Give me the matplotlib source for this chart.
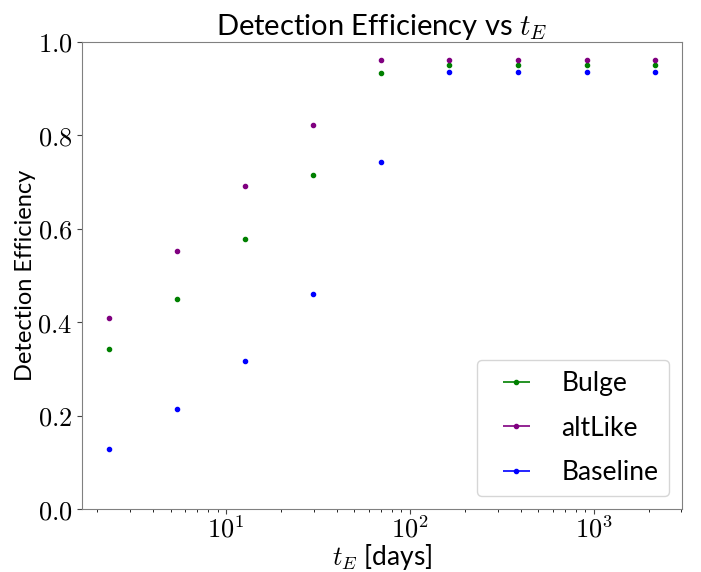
import matplotlib
matplotlib.use("Agg")
import matplotlib.pyplot as plt
from matplotlib.ticker import FuncFormatter
import numpy as np

plt.rcParams['font.family'] = ['Lato', 'DejaVu Sans']
plt.rcParams['mathtext.fontset'] = 'cm'

# bin centres of the Einstein crossing time [days]
t_e = [2.32, 5.4, 12.7, 29.9, 69.5, 163, 389, 916, 2150]

# detection efficiency per population
bulge = [0.343, 0.450, 0.578, 0.715, 0.934, 0.951, 0.951, 0.951, 0.951]
alt_like = [0.409, 0.552, 0.692, 0.822, 0.961, 0.961, 0.961, 0.961, 0.961]
baseline = [0.128, 0.214, 0.317, 0.460, 0.743, 0.936, 0.936, 0.936, 0.936]

series = [("Bulge", bulge, "green"),
          ("altLike", alt_like, "purple"),
          ("Baseline", baseline, "blue")]

fig = plt.figure(figsize=(7.01, 5.72), dpi=100)
ax = fig.add_axes([0.117, 0.110, 0.856, 0.817])

for name, eff, col in series:
    ax.errorbar(t_e, eff, xerr=np.zeros(len(t_e)), fmt='.', color=col,
                markersize=6, elinewidth=1.2, label=name)

ax.set_xscale('log')
ax.set_ylim(0, 1)
ax.set_yticks([0.0, 0.2, 0.4, 0.6, 0.8, 1.0])
ax.yaxis.set_major_formatter(FuncFormatter(lambda v, p: r'$%.1f$' % v))
ax.xaxis.set_major_formatter(
    FuncFormatter(lambda v, p: r'$10^{%d}$' % round(np.log10(v))))
ax.tick_params(labelsize=19, color='#444444')
ax.tick_params(axis='x', pad=1)

for sp in ax.spines.values():
    sp.set_color('#808080')

ax.set_title(r'Detection Efficiency vs $t_E$', fontsize=21, pad=5)
ax.set_xlabel(r'$t_E$ [days]', fontsize=19, labelpad=0)
ax.set_ylabel('Detection Efficiency', fontsize=17, labelpad=1)
ax.legend(loc='lower right', fontsize=19, labelspacing=0.75,
          handlelength=2.2, handletextpad=0.6)

fig.savefig('out.png', dpi=100)
